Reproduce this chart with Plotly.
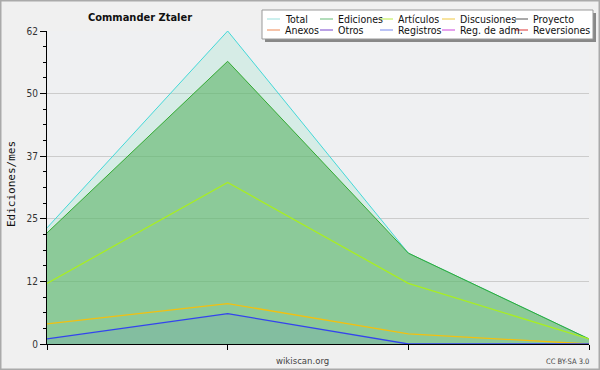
import plotly.graph_objects as go

# ---- data ----
months = [0, 1, 2, 3]
total = [23, 62, 18, 1]
ediciones = [22, 56, 18, 1]
articulos = [12, 32, 12, 1]
discusiones = [4, 8, 2, 0]
registros = [1, 6, 0, 0]

legend_names = ["Total", "Ediciones", "Artículos", "Discusiones", "Proyecto",
                "Anexos", "Otros", "Registros", "Reg. de adm.", "Reversiones"]
legend_colors = ["#99E0DD", "#66BB77", "#BBEE44", "#F0C840", "#555555",
                 "#EE8855", "#7744CC", "#7788EE", "#CC44DD", "#DD3333"]

ytick_vals = [0, 12.4, 24.8, 37.2, 49.6, 62]
ytick_text = ["0", "12", "25", "37", "50", "62"]

W, H = 600, 370
L, R, T, B = 47, 589, 31, 344


def px(x):
    return (x - L) / (R - L)


def py(y):
    return (B - y) / (B - T)


fig = go.Figure()
fig.add_trace(go.Scatter(x=months, y=total, mode="lines", fill="tozeroy",
                         line=dict(color="#44D8D8", width=1),
                         fillcolor="rgba(150,225,200,0.28)"))
fig.add_trace(go.Scatter(x=months, y=ediciones, mode="lines", fill="tozeroy",
                         line=dict(color="#33AA33", width=1),
                         fillcolor="rgba(80,175,90,0.55)"))
fig.add_trace(go.Scatter(x=months, y=articulos, mode="lines",
                         line=dict(color="#A8EE22", width=1.3)))
fig.add_trace(go.Scatter(x=months, y=discusiones, mode="lines",
                         line=dict(color="#F2C010", width=1.3)))
fig.add_trace(go.Scatter(x=months, y=registros, mode="lines", fill="tozeroy",
                         line=dict(color="#3344EE", width=1.3),
                         fillcolor="rgba(60,90,230,0.1)"))

shapes = []
annotations = []
font_main = "DejaVu Sans Condensed, DejaVu Sans, sans-serif"

# outer border
shapes.append(dict(type="rect", xref="paper", yref="paper",
                   x0=px(0.75), x1=px(W - 0.75), y0=py(H - 0.75), y1=py(0.75),
                   line=dict(color="#AAAAAA", width=1.5), layer="below"))

# legend box with shadow
shapes.append(dict(type="rect", xref="paper", yref="paper",
                   x0=px(265), x1=px(596), y0=py(42), y1=py(13),
                   line=dict(width=0), fillcolor="#888888"))
shapes.append(dict(type="rect", xref="paper", yref="paper",
                   x0=px(262), x1=px(593), y0=py(39), y1=py(10),
                   line=dict(color="#999999", width=1), fillcolor="#FFFFFF"))
col_x = [267, 320, 380, 442, 515]
row_y = [19, 30]
for i, (name, col) in enumerate(zip(legend_names, legend_colors)):
    cx = col_x[i % 5]
    ry = row_y[i // 5]
    shapes.append(dict(type="line", xref="paper", yref="paper",
                       x0=px(cx), x1=px(cx + 13), y0=py(ry), y1=py(ry),
                       line=dict(color=col, width=1)))
    annotations.append(dict(xref="paper", yref="paper", x=px(cx + 16), y=py(ry),
                            text=name, showarrow=False, xanchor="left",
                            yanchor="middle",
                            font=dict(family=font_main, size=10.5, color="#111111")))

annotations.append(dict(xref="paper", yref="paper", x=px(86), y=py(17),
                        text="<b>Commander Ztaler</b>", showarrow=False,
                        xanchor="left", yanchor="middle",
                        font=dict(family=font_main, size=11, color="#111111")))
annotations.append(dict(xref="paper", yref="paper", x=px(11), y=py(184),
                        text="Ediciones/mes", showarrow=False, textangle=-90,
                        xanchor="center", yanchor="middle",
                        font=dict(family="DejaVu Sans Mono", size=11, color="#111111")))
annotations.append(dict(xref="paper", yref="paper", x=px(302), y=py(360),
                        text="wikiscan.org", showarrow=False,
                        xanchor="center", yanchor="middle",
                        font=dict(family=font_main, size=9.5, color="#444444")))
annotations.append(dict(xref="paper", yref="paper", x=px(591), y=py(361),
                        text="CC BY-SA 3.0", showarrow=False,
                        xanchor="right", yanchor="middle",
                        font=dict(family=font_main, size=7.5, color="#444444")))

fig.update_layout(
    width=W, height=H,
    margin=dict(l=L, r=W - R, t=T, b=H - B, pad=0),
    paper_bgcolor="#F0F0F0",
    plot_bgcolor="#EFF0F2",
    showlegend=False,
    shapes=shapes,
    annotations=annotations,
    xaxis=dict(range=[0, 3], tickvals=months, showticklabels=False,
               ticks="outside", ticklen=5, tickcolor="#000000",
               showline=True, linecolor="#000000", linewidth=1,
               showgrid=False, zeroline=False, fixedrange=True),
    yaxis=dict(range=[0, 62], tickvals=ytick_vals, ticktext=ytick_text,
               ticks="outside", ticklen=6, tickcolor="#000000",
               showline=True, linecolor="#000000", linewidth=1,
               showgrid=True, gridcolor="#CCCCCC", gridwidth=1,
               zeroline=False,
               tickfont=dict(family=font_main, size=10, color="#333333"),
               minor=dict(tickvals=[3.1 * k for k in range(21) if k % 4 != 0],
                          ticks="outside", ticklen=3, tickcolor="#000000",
                          showgrid=False),
               fixedrange=True),
)

fig.write_html("out.html", config={"displayModeBar": False},
               post_script="document.body.style.margin='0';document.body.style.overflow='hidden';")
